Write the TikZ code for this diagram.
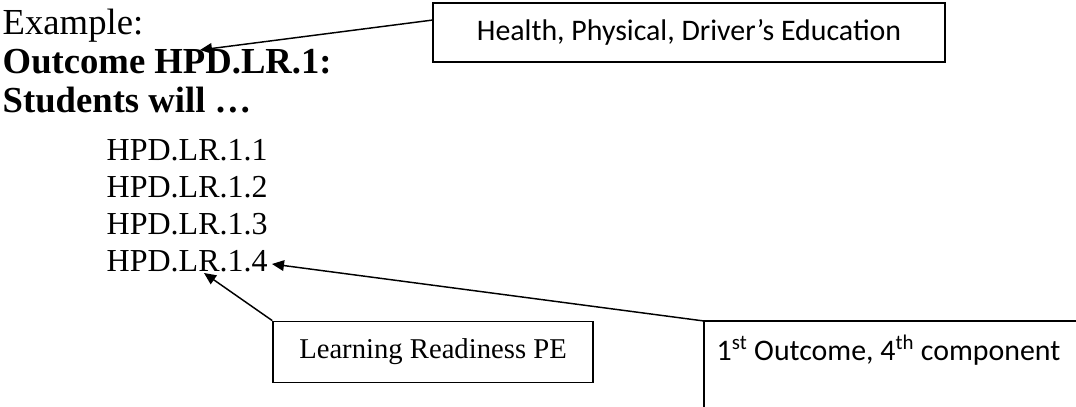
\documentclass[tikz,border=0pt]{standalone}
\usepackage{fontspec}
\setmainfont{Liberation Serif}
\newfontfamily\calibri{Carlito}
\usetikzlibrary{shapes,arrows.meta}

\begin{document}
\begin{tikzpicture}[x=0.75pt,y=-0.75pt,
  >={Triangle[length=9pt,width=8pt]},
  line width=1.1pt,
  txt/.style={anchor=base west,inner sep=0pt,font=\fontsize{24}{28}\selectfont},
  headtxt/.style={anchor=base west,inner sep=0pt,font=\fontsize{27.5}{32}\selectfont},
  sanslbl/.style={font=\calibri\fontsize{22.4}{26}\selectfont},
  tagbox/.style={draw,inner sep=0pt}]

\clip (0,0) rectangle (1076,407);
\useasboundingbox (0,0) rectangle (1076,407);

% heading lines
\node[headtxt] (example) at (2,34) {Example:};
\node[headtxt,font=\bfseries\fontsize{27.5}{32}\selectfont] (outcome) at (2,73) {Outcome HPD.LR.1:};
\node[headtxt,font=\bfseries\fontsize{27.5}{32}\selectfont] (students) at (2,112) {Students will …};

% components
\node[txt] (hpda) at (106,160) {HPD.LR.1.1};
\node[txt] (hpdb) at (106,197) {HPD.LR.1.2};
\node[txt] (hpdc) at (106,234) {HPD.LR.1.3};
\node[txt] (hpdd) at (106,271) {HPD.LR.1.4};

% boxes
\node[tagbox,sanslbl,minimum width=384pt,minimum height=44pt] (health) at (689,32.5) {Health, Physical, Driver’s Education};
\node[tagbox,minimum width=240pt,minimum height=46pt,font=\fontsize{21.5}{25}\selectfont] (ready) at (433,352) {Learning Readiness PE};
\draw (1100,430) -- (704,430) -- (704,321) coordinate (cmpcorner) -- (1100,321);
\node[sanslbl,anchor=base west,inner sep=0pt] (cmp) at (716,360) {1\textsuperscript{st} Outcome, 4\textsuperscript{th} component};

% arrow tips
\coordinate (tipout) at (200,50);
\coordinate (tiplr) at (204,273);
\coordinate (tipfour) at (272,264);
\coordinate (hstart) at (433,20);

\draw [->] (hstart) -- (tipout);
\draw [->] (ready.north west) -- (tiplr);
\draw [->] (cmpcorner) -- (tipfour);

\end{tikzpicture}
\end{document}
